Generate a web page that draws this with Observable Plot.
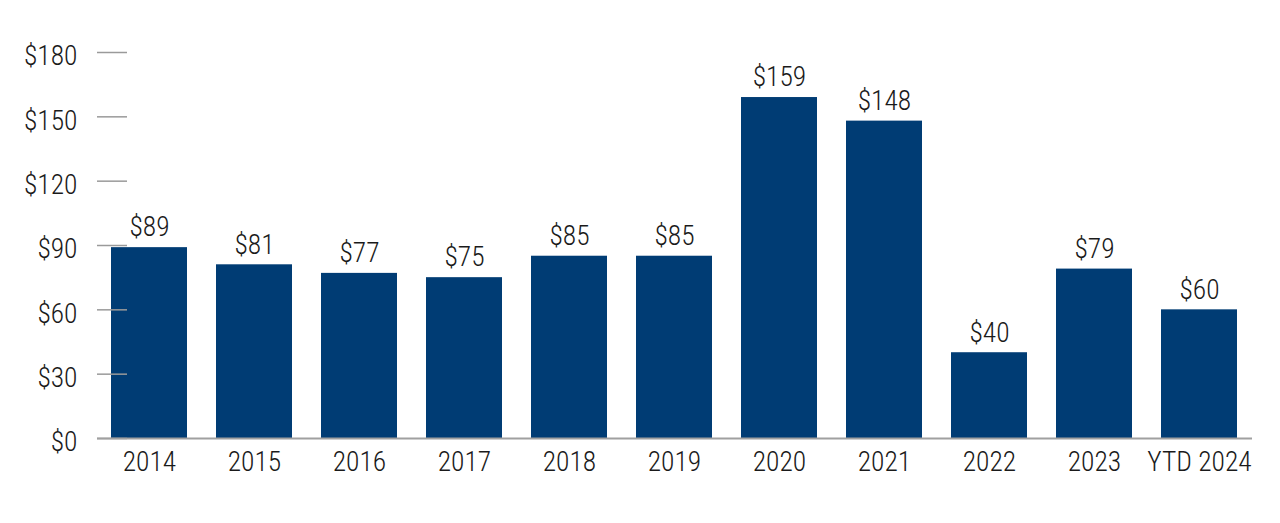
<!DOCTYPE html>
<html>
<head>
<meta charset="utf-8">
<script src="https://cdn.jsdelivr.net/npm/d3@7"></script>
<script src="https://cdn.jsdelivr.net/npm/@observablehq/plot@0.6"></script>
<style>
  html, body { margin: 0; padding: 0; background: #ffffff; }
  #chart svg { display: block; font-stretch: condensed; font-weight: 330; }
  #chart svg text { font-stretch: condensed; font-weight: 330; }
</style>
</head>
<body>
<div id="chart"></div>
<script>
const categories = ["2014", "2015", "2016", "2017", "2018", "2019", "2020", "2021", "2022", "2023", "YTD 2024"];
const values = [89, 81, 77, 75, 85, 85, 159, 148, 40, 79, 60];
const yTicks = [0, 30, 60, 90, 120, 150, 180];

const data = categories.map((c, i) => ({category: c, value: values[i]}));
const FONT = "'Roboto', 'Open Sans', sans-serif";
const FS = 27.5;

const chart = Plot.plot({
  width: 1280,
  height: 523,
  marginLeft: 97,
  marginRight: 28,
  marginTop: 52,
  marginBottom: 85,
  style: {fontFamily: FONT, fontSize: FS + "px", color: "#1a1a1a", background: "#ffffff"},
  x: {domain: categories, paddingInner: 0.276, paddingOuter: 0.135, label: null},
  y: {domain: [0, 180], label: null},
  marks: [
    Plot.barY(data, {x: "category", y: "value", fill: "#003c74"}),
    Plot.text(data, {
      x: "category", y: "value", text: d => "$" + d.value,
      dy: -20, fontSize: FS, fill: "#1a1a1a"
    }),
    Plot.axisY({
      ticks: yTicks, tickSize: -30, tickFormat: () => "", stroke: "#9a9a9a", strokeWidth: 1.5, label: null
    }),
    Plot.axisY({
      ticks: yTicks, tickSize: 0, tickPadding: 20, tickFormat: d => "$" + d,
      dy: 4, fontSize: FS, fill: "#1a1a1a", label: null
    }),
    Plot.axisX({tickSize: 0, tickPadding: 13, fontSize: FS, fill: "#1a1a1a", label: null}),
    Plot.ruleY([0], {stroke: "#a0a0a0", strokeWidth: 2})
  ]
});
document.getElementById("chart").appendChild(chart);
</script>
</body>
</html>
